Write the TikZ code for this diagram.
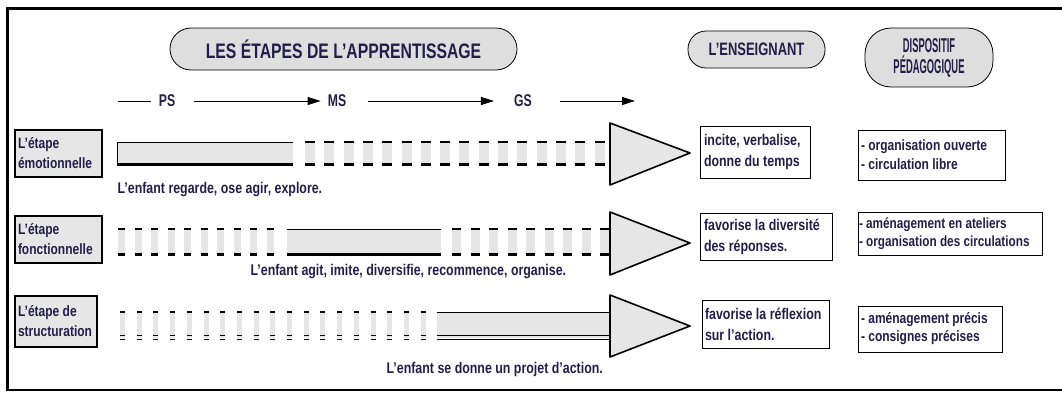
\documentclass[tikz,border=0pt]{standalone}
\usepackage{fontspec}
\setmainfont{Liberation Sans}[FakeStretch=0.8]
\newfontfamily\narrowT{Liberation Sans}[FakeStretch=0.75]
\newfontfamily\narrowA{Liberation Sans}[FakeStretch=0.72]
\newfontfamily\narrowB{Liberation Sans}[FakeStretch=0.47]
\usetikzlibrary{arrows.meta}
\definecolor{txt}{RGB}{35,30,72}
\definecolor{barfill}{RGB}{230,230,230}
\definecolor{hdrfill}{RGB}{222,222,222}
\begin{document}
\begin{tikzpicture}[x=1pt,y=-1pt,
  every node/.style={text=txt, font=\bfseries\fontsize{15.5}{21}\selectfont},
  hdr/.style={draw=black, line width=0.8pt, fill=hdrfill, align=center, inner sep=0pt},
  lvl/.style={font=\narrowA\bfseries\fontsize{17}{19}\selectfont, inner sep=2pt},
  lab/.style={draw=black, line width=1.2pt, fill=barfill, align=flush left, inner sep=3pt,
    font=\bfseries\fontsize{15}{20}\selectfont},
  info/.style={draw=black, line width=0.8pt, fill=white, align=flush left, inner sep=4pt},
  arr/.style={line width=0.9pt, -{Triangle[length=13pt,width=8pt]}},
  tri/.style={draw=black, line width=1.6pt, line join=round, fill=barfill}
]
\useasboundingbox (0,0) rectangle (1062,394);
% frame
\draw[line width=3pt] (6,8) -- (1062,8);
\draw[line width=3pt] (7.5,8) -- (7.5,391);
\draw[line width=2pt] (6,390) -- (1062,390);

% headers
\node[hdr, rounded corners=21pt, minimum width=347pt, minimum height=42pt, font=\narrowT\bfseries\fontsize{21}{23}\selectfont] (title) at (343.5,49) {LES ÉTAPES DE L’APPRENTISSAGE};
\node[hdr, rounded corners=18pt, minimum width=137pt, minimum height=37pt, font=\narrowA\bfseries\fontsize{18}{20}\selectfont] (ens) at (756.5,49.5) {L’ENSEIGNANT};
\node[hdr, rounded corners=26pt, minimum width=128pt, minimum height=59pt, font=\narrowB\bfseries\fontsize{20}{21}\selectfont] (dis) at (929,57.5) {DISPOSITIF\\PÉDAGOGIQUE};

% level line
\node[lvl] (PS) at (167,101) {PS};
\node[lvl] (MS) at (337,101) {MS};
\node[lvl] (GS) at (523,101) {GS};
\coordinate (s0) at (118,101);
\coordinate (g1) at (635,101);
\draw[line width=0.9pt, shorten >=6pt] (s0) -- (PS.west);
\draw[arr, shorten <=17pt, shorten >=5pt] (PS.east) -- (MS.west);
\draw[arr, shorten <=20pt, shorten >=18pt] (MS.east) -- (GS.west);
\draw[arr, shorten <=26pt] (GS.east) -- (g1);

% ---------- row 1 ----------
\node[lab, minimum width=87pt, minimum height=47pt, text width=81pt] (l1) at (58.5,153.5) {L’étape\\émotionnelle};
\fill[barfill] (117,142) rectangle (293,165);
\draw[line width=0.9pt] (293,142) -- (117,142) -- (117,165);
\draw[line width=3pt] (117,164) -- (293,164);
\foreach \i in {0,...,15}{
  \pgfmathsetmacro\xx{305+19.3*\i}
  \fill[barfill] (\xx,142) rectangle ++(10,23);
  \draw[line width=1.2pt] (\xx,142) -- ++(10,0);
  \draw[line width=3pt] (\xx,164) -- ++(10,0);
}
\draw[tri] (610,123) -- (690,153) -- (610,185) -- cycle;
\node[anchor=west] (t1) at (114,190) {L’enfant regarde, ose agir, explore.};
\node[info, minimum width=110pt, minimum height=52pt, text width=102pt] (e1) at (755,152) {incite, verbalise,\\donne du temps};
\node[info, minimum width=147pt, minimum height=50pt, text width=141pt, inner sep=3pt, font=\bfseries\fontsize{15}{19}\selectfont] (d1) at (931.5,155) {- organisation ouverte\\- circulation libre};

% ---------- row 2 ----------
\node[lab, minimum width=87pt, minimum height=47pt, text width=81pt] (l2) at (58.5,239.5) {L’étape\\fonctionnelle};
\foreach \i in {0,...,9}{
  \pgfmathsetmacro\xx{118+16.5*\i}
  \fill[barfill] (\xx,229) rectangle ++(7,26);
  \draw[line width=1.2pt] (\xx,229) -- ++(7,0);
  \draw[line width=3pt] (\xx,254) -- ++(7,0);
}
\fill[barfill] (287,229) rectangle (441,255);
\draw[line width=0.9pt] (287,229) -- (441,229);
\draw[line width=3pt] (287,254) -- (441,254);
\foreach \i in {0,...,8}{
  \pgfmathsetmacro\xx{452+18.5*\i}
  \fill[barfill] (\xx,229) rectangle ++(9,26);
  \draw[line width=1.2pt] (\xx,229) -- ++(9,0);
  \draw[line width=3pt] (\xx,254) -- ++(9,0);
}
\draw[tri] (610,212) -- (690,243) -- (610,275) -- cycle;
\node[anchor=west] (t2) at (247,272) {L’enfant agit, imite, diversifie, recommence, organise.};
\node[info, minimum width=132pt, minimum height=47pt, text width=124pt] (e2) at (766,236.5) {favorise la diversité\\des réponses.};
\node[info, minimum width=184pt, minimum height=43pt, text width=182pt, inner sep=1pt, font=\bfseries\fontsize{14.7}{18}\selectfont] (d2) at (950,233.5) {- aménagement en ateliers\\- organisation des circulations};

% ---------- row 3 ----------
\node[lab, minimum width=82pt, minimum height=51pt, text width=76pt] (l3) at (56,321.5) {L’étape de\\structuration};
\foreach \i in {0,...,18}{
  \pgfmathsetmacro\xx{120+16.7*\i}
  \fill[barfill] (\xx,312) rectangle ++(5,26);
  \draw[line width=1.2pt] (\xx,312) -- ++(5,0);
  \draw[line width=1pt] (\xx,335.5) -- ++(5,0);
  \draw[line width=1pt] (\xx,339) -- ++(5,0);
}
\fill[barfill] (437,312) rectangle (610,338);
\draw[line width=0.9pt] (437,312) -- (610,312);
\draw[line width=1pt] (437,335.5) -- (610,335.5);
\draw[line width=1pt] (437,339) -- (610,339);
\draw[tri] (610,295) -- (690,326) -- (610,357) -- cycle;
\node[anchor=west] (t3) at (383,369) {L’enfant se donne un projet d’action.};
\node[info, minimum width=127pt, minimum height=48pt, text width=121pt, inner sep=3pt] (e3) at (765.5,324) {favorise la réflexion\\sur l’action.};
\node[info, minimum width=144pt, minimum height=46pt, text width=138pt, inner sep=3pt, font=\bfseries\fontsize{15}{18}\selectfont] (d3) at (930,329) {- aménagement précis\\- consignes précises};
\end{tikzpicture}
\end{document}
